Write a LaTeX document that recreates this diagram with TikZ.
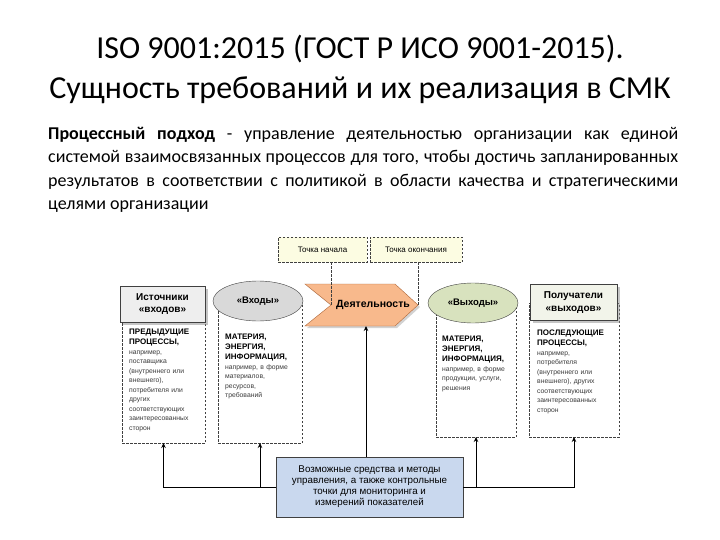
\documentclass[tikz,border=0pt]{standalone}
\usepackage{fontspec}
\setmainfont{Carlito}
\newfontfamily\arialf{Liberation Sans}
\usepackage{tikz}
\usetikzlibrary{arrows.meta, shapes.geometric, shadows}
\definecolor{cLine}{HTML}{404040}
\definecolor{cPoint}{HTML}{FCFCE2}
\definecolor{cAct}{HTML}{F8B98C}
\definecolor{cActD}{HTML}{B0683A}
\definecolor{cIn}{HTML}{D9D9D9}
\definecolor{cSrc}{HTML}{EEEEEE}
\definecolor{cOut}{HTML}{D8E2BE}
\definecolor{cDst}{HTML}{F2F4EA}
\definecolor{cCtrl}{HTML}{C9D8EE}
\definecolor{cTxt}{HTML}{3A3A3A}
\newcommand\colhead{\bfseries\color{black}\fontsize{8}{10}\selectfont}

\begin{document}
\begin{tikzpicture}[x=1pt, y=-1pt, >={Stealth[length=5pt,width=4.5pt]},
  point/.style={draw=cLine, dash pattern=on 2.5pt off 1.5pt, fill=cPoint, minimum height=25, inner sep=0,
    font=\arialf\fontsize{8}{9}\selectfont},
  pbox/.style={draw=cLine, fill=cSrc, minimum width=85, minimum height=36, inner sep=0, align=center,
    font=\arialf\bfseries\fontsize{10}{12.5}\selectfont,
    drop shadow={shadow xshift=2.5pt, shadow yshift=-2.5pt, fill=black!45}},
  flow/.style={ellipse, draw=cLine, minimum width=90, minimum height=40, inner sep=0,
    font=\arialf\bfseries\fontsize{9.5}{11}\selectfont},
  col/.style={draw=cLine, dash pattern=on 2.5pt off 1.5pt, anchor=north west, inner sep=0, outer sep=0},
  coltext/.style={anchor=north west, text width=82, align=left, inner sep=0, text=cTxt,
    font=\arialf\fontsize{6.8}{9.5}\selectfont},
  conn/.style={->, draw=black, line width=0.9pt},
  guide/.style={draw=cLine, dash pattern=on 2.5pt off 1.5pt}]
  \useasboundingbox[fill=white] (0,0) rectangle (720,540);

  \node[align=center, font=\fontsize{32}{40}\selectfont] (title) at (360,69)
    {ISO 9001:2015 (ГОСТ Р ИСО 9001-2015).\\Сущность требований и их реализация в СМК};
  \node[anchor=north west, text width=630, align=justify, inner sep=0,
    font=\fontsize{18}{23.5}\selectfont] (def) at (48,127)
    {\textbf{Процессный подход} - управление деятельностью организации как единой\linebreak
     системой взаимосвязанных процессов для того, чтобы достичь запланированных\linebreak
     результатов в соответствии с политикой в области качества и стратегическими\linebreak
     целями организации};

  \node[col, minimum width=83, minimum height=121] (col1) at (122,322) {};
  \node[col, minimum width=84, minimum height=142] (col2) at (218,301) {};
  \node[col, minimum width=80, minimum height=134] (col3) at (436,303) {};
  \node[col, minimum width=90, minimum height=134] (col4) at (529,303) {};

  \node[point, minimum width=89] (tstart) at (322.5,249.5) {Точка начала};
  \node[point, minimum width=92] (tend) at (416,249.5) {Точка окончания};

  \coordinate (notch) at (331,305);
  \coordinate (tip) at (418,305);
  \coordinate (actb) at (366,326);
  \draw[fill=cAct, draw=cActD, drop shadow={shadow xshift=2pt, shadow yshift=-2pt, fill=black!35}]
    (305,284) -- (395,284) -- (tip) -- (395,326) -- (305,326) -- (notch) -- cycle;
  \node[font=\arialf\bfseries\fontsize{10.5}{12}\selectfont] (act) at (373,305) {Деятельность};
  \draw[guide] (tstart.south -| notch) -- (notch);
  \draw[guide] (tend.south -| tip) -- (tip);

  \node[pbox] (src) at (162.5,304) {Источники\\«входов»};
  \node[pbox, fill=cDst, minimum width=87] (dst) at (573.5,302.5) {Получатели\\«выходов»};
  \node[flow, fill=cIn] (inp) at (258,301) {«Входы»};
  \node[flow, fill=cOut] (outp) at (473,303) {«Выходы»};

  \node[coltext] (t1) at (129,329)
    {{\colhead ПРЕДЫДУЩИЕ\\ПРОЦЕССЫ,\par}
     например,\\поставщика\\(внутреннего или\\внешнего),\\потребителя или\\других\\соответствующих\\заинтересованных\\сторон};
  \node[coltext] (t2) at (225,334)
    {{\colhead МАТЕРИЯ,\\ЭНЕРГИЯ,\\ИНФОРМАЦИЯ,\par}
     например, в форме\\материалов,\\ресурсов,\\требований};
  \node[coltext] (t3) at (442,336)
    {{\colhead МАТЕРИЯ,\\ЭНЕРГИЯ,\\ИНФОРМАЦИЯ,\par}
     например, в форме\\продукции, услуги,\\решения};
  \node[coltext] (t4) at (537,330)
    {{\colhead ПОСЛЕДУЮЩИЕ\\ПРОЦЕССЫ,\par}
     например,\\потребителя\\(внутреннего или\\внешнего), других\\соответствующих\\заинтересованных\\сторон};

  \node[draw=cLine, fill=cCtrl, minimum width=187, minimum height=60, inner sep=0, align=center,
    font=\arialf\fontsize{9.8}{11}\selectfont] (ctrl) at (369.5,487)
    {Возможные средства и методы\\управления, а также контрольные\\точки для мониторинга и\\измерений показателей};

  \draw[conn] (ctrl.north -| actb) -- (actb);
  \draw[conn] (ctrl.west) -| (col1.south);
  \draw[conn] (col2.south |- ctrl.west) -- (col2.south);
  \draw[conn] (ctrl.east) -| (col4.south);
  \draw[conn] (col3.south |- ctrl.east) -- (col3.south);
\end{tikzpicture}
\end{document}
